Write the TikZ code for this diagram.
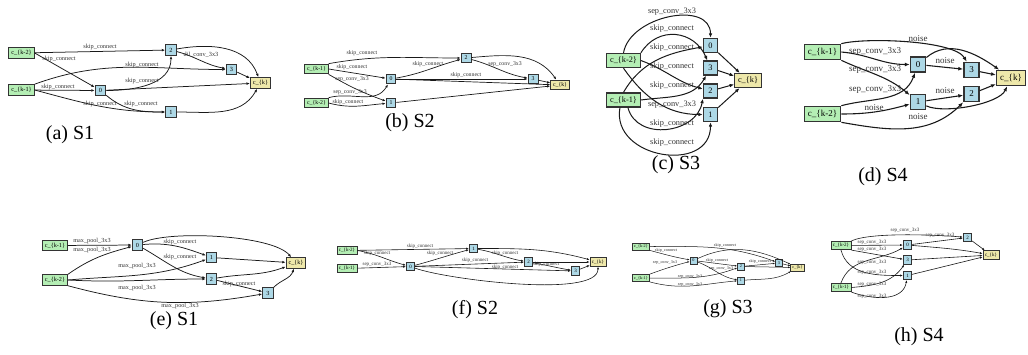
\documentclass[tikz,border=0pt]{standalone}
\usepackage{fontspec}
\setmainfont{Liberation Serif}
\usetikzlibrary{arrows.meta}

\definecolor{inpg}{HTML}{B4EEB4}
\definecolor{midb}{HTML}{ADD8E6}
\definecolor{outy}{HTML}{EEE8AA}

\tikzset{
  subfig/.style={execute at begin scope={\fontsize{#1}{#1}\selectfont}, line width=#1*0.12pt, draw=black!90,
    cellw/.style={line width=#1*0.15pt}},
  cellw/.style={line width=0.8pt},
  cell/.style={draw=black!80, cellw, minimum height=1.7em, minimum width=1.7em, inner xsep=0.4em, inner ysep=0pt},
  inpnode/.style={cell, fill=inpg},
  midnode/.style={cell, fill=midb},
  outnode/.style={cell, fill=outy},
  lbl/.style={inner sep=0.4pt, text=black!80},
  captxt/.style={font=\fontsize{20}{24}\selectfont},
  >={Latex[length=0pt 4.5, width=0pt 3.6]}
}

\begin{document}
\begin{tikzpicture}[x=1pt,y=1pt]
\useasboundingbox (0,0) rectangle (1028,-354);

% (a)
\begin{scope}[subfig=6.3]
	\node[inpnode] (akm2) at (21.5,-53) {c\_\{k-2\}};
	\node[inpnode] (akm1) at (21.5,-90) {c\_\{k-1\}};
	\node[midnode] (a0) at (100.5,-90.5) {0};
	\node[midnode] (a2) at (171,-50) {2};
	\node[midnode] (a3) at (231.5,-69.5) {3};
	\node[midnode] (a1) at (171,-112) {1};
	\node[outnode] (ak) at (260.5,-83) {c\_\{k\}};
	\draw[->] (akm2) -- (a2) node[lbl] at (100,-46.5) {skip\_connect};
	\draw[->] (akm2.east) -- (a0) node[lbl] at (59,-59) {skip\_connect};
	\draw[->] (akm1.north east) to[out=20,in=180] (a3) node[lbl] at (142,-64.5) {skip\_connect};
	\draw[->] (akm1) -- (a0) node[lbl] at (58,-87) {skip\_connect};
	\draw[->] (a0) to[out=0,in=-90] (a2) node[lbl] at (142,-81) {skip\_connect};
	\draw[->] (akm1.east) to[out=-15,in=180] (a1) node[lbl] at (100,-104) {skip\_connect};
	\draw[->] (a0) to[out=-40,in=180] (a1) node[lbl] at (141,-104) {skip\_connect};
	\draw[->] (a2) to[out=-15,in=170] (a3) node[lbl] at (201,-54.5) {dil\_conv\_3x3};
	\draw[->] (a2) to[out=10,in=110] (ak);
	\draw[->] (a3) -- (ak);
	\draw[->] (a0) -- (ak);
	\draw[->] (a1) to[out=0,in=-120] (ak);
\end{scope}

% (b)
\begin{scope}[subfig=5.8]
	\node[inpnode] (bkm1) at (316.5,-69) {c\_\{k-1\}};
	\node[inpnode] (bkm2) at (316.5,-103) {c\_\{k-2\}};
	\node[midnode] (b0) at (391,-79) {0};
	\node[midnode] (b1) at (391,-103) {1};
	\node[midnode] (b2) at (466,-58) {2};
	\node[midnode] (b3) at (533,-79) {3};
	\node[outnode] (bk) at (560,-85) {c\_\{k\}};
	\draw[->] (bkm1.north east) to[out=10,in=180] (b2) node[lbl] at (362,-53) {skip\_connect};
	\draw[->] (bkm1.east) -- (b0) node[lbl] at (352,-67) {skip\_connect};
	\draw[->] (bkm1.south east) to[out=-30,in=160] (b1) node[lbl] at (352,-79) {sep\_conv\_3x3};
	\draw[->] (bkm2.north east) to[out=15,in=-120] (b0) node[lbl] at (350,-92) {sep\_conv\_3x3};
	\draw[->] (bkm2.east) to[out=-15,in=185] (b1) node[lbl] at (348,-102.5) {skip\_connect};
	\draw[->] (b0) to[out=10,in=195] (b2) node[lbl] at (428,-64) {skip\_connect};
	\draw[->] (b0.east) -- (b3) node[lbl] at (466,-75) {skip\_connect};
	\draw[->] (b2) to[out=-15,in=170] (b3) node[lbl] at (505,-64) {sep\_conv\_3x3};
	\draw[->] (b2) to[out=5,in=125] (bk);
	\draw[->] (b3) -- (bk);
	\draw[->] (b0) -- (bk);
	\draw[->] (b1) -- (bk);
\end{scope}

% (c)
\begin{scope}[subfig=8.3]
	\node[inpnode] (ckm2) at (623.5,-60.5) {c\_\{k-2\}};
	\node[inpnode] (ckm1) at (623.5,-100) {c\_\{k-1\}};
	\node[midnode] (c0) at (710.5,-45.5) {0};
	\node[midnode] (c3) at (710.5,-68) {3};
	\node[midnode] (c2) at (710.5,-91) {2};
	\node[midnode] (c1) at (710.5,-114.5) {1};
	\node[outnode] (ck) at (748,-80.5) {c\_\{k\}};
	\draw[->] (ckm2.north) to[out=80,in=90,looseness=1.1] (c0) node[lbl] at (672,-12) {sep\_conv\_3x3};
	\draw[->] (ckm2.north east) to[out=58,in=113,looseness=1.25] (c3) node[lbl] at (672,-29) {skip\_connect};
	\draw[->] (ckm1.north) to[out=60,in=190] (c0) node[lbl] at (672,-47) {skip\_connect};
	\draw[->] (ckm2.east) to[out=-20,in=165] (c2) node[lbl] at (672,-66) {skip\_connect};
	\draw[->] (ckm1.east) to[out=8,in=-120] (c3) node[lbl] at (672,-86) {skip\_connect};
	\draw[->] (ckm2.south) to[out=-55,in=180] (c1) node[lbl] at (672,-105) {sep\_conv\_3x3};
	\draw[->] (ckm1.-60) to[out=-75,in=-100,looseness=1.2] (c2.south west) node[lbl] at (672,-123) {skip\_connect};
	\draw[->] (ckm1.-115) to[out=-100,in=-90,looseness=1.45] (c1) node[lbl] at (672,-142) {skip\_connect};
	\draw[->] (c0) -- (ck);
	\draw[->] (c3) -- (ck);
	\draw[->] (c2) -- (ck);
	\draw[->] (c1) -- (ck);
\end{scope}

% (d)
\begin{scope}[subfig=9]
	\node[inpnode] (dkm1) at (822.5,-52) {c\_\{k-1\}};
	\node[inpnode] (dkm2) at (822.5,-114) {c\_\{k-2\}};
	\node[midnode] (d0) at (918,-64.5) {0};
	\node[midnode] (d1) at (918,-102) {1};
	\node[midnode] (d3) at (971.5,-70) {3};
	\node[midnode] (d2) at (971.5,-94) {2};
	\node[outnode] (dk) at (1011,-78) {c\_\{k\}};
	\draw[->] (dkm1.north east) to[out=15,in=120,looseness=0.5] (d3) node[lbl] at (918,-39) {noise};
	\draw[->] (dkm1.east) to[out=-5,in=180] (d0) node[lbl] at (875,-51) {sep\_conv\_3x3};
	\draw[->] (dkm1.south east) to[out=-25,in=140] (d1) node[lbl] at (875,-69) {sep\_conv\_3x3};
	\draw[->] (dkm2.north east) to[out=15,in=-110] (d0) node[lbl] at (875,-89) {sep\_conv\_3x3};
	\draw[->] (dkm2.east) to[out=0,in=-165] (d1) node[lbl] at (874,-108) {noise};
	\draw[->] (dkm2.south east) to[out=-10,in=-135] (d2) node[lbl] at (918,-117) {noise};
	\draw[->] (d0) -- (d3) node[lbl] at (945,-61) {noise};
	\draw[->] (d1) -- (d2) node[lbl] at (945,-91) {noise};
	\draw[->] (d0) to[out=40,in=145] (dk);
	\draw[->] (d3) -- (dk);
	\draw[->] (d2) -- (dk);
	\draw[->] (d1) to[out=-25,in=-115,looseness=0.6] (dk);
\end{scope}

% (e)
\begin{scope}[subfig=6.2]
	\node[inpnode] (ekm1) at (55,-245.5) {c\_\{k-1\}};
	\node[inpnode] (ekm2) at (55,-280) {c\_\{k-2\}};
	\node[midnode] (e0) at (137.5,-245) {0};
	\node[midnode] (e1) at (211.5,-257.5) {1};
	\node[midnode] (e2) at (211.5,-279) {2};
	\node[midnode] (e3) at (268,-293) {3};
	\node[outnode] (ek) at (296,-263) {c\_\{k\}};
	\draw[->] (ekm1) -- (e0) node[lbl] at (92,-241) {max\_pool\_3x3};
	\draw[->] (ekm2.north east) to[out=35,in=195] (e0) node[lbl] at (92,-250) {max\_pool\_3x3};
	\draw[->] (e0) to[out=5,in=160] (e1) node[lbl] at (180,-242) {skip\_connect};
	\draw[->] (e0) to[out=-30,in=170] (e2) node[lbl] at (180,-257) {skip\_connect};
	\draw[->] (ekm2.east) to[out=5,in=-160] (e1) node[lbl] at (137,-266) {max\_pool\_3x3};
	\draw[->] (ekm2.east) to[out=-3,in=180] (e2) node[lbl] at (137,-288) {max\_pool\_3x3};
	\draw[->] (ekm2.south east) to[out=-15,in=190] (e3) node[lbl] at (180,-306) {max\_pool\_3x3};
	\draw[->] (e2) -- (e3) node[lbl] at (239,-284) {skip\_connect};
	\draw[->] (e0) to[out=25,in=130,looseness=0.5] (ek);
	\draw[->] (e1) -- (ek);
	\draw[->] (e2) to[out=10,in=200] (ek);
	\draw[->] (e3) to[out=45,in=-110] (ek);
\end{scope}

% (f)
\begin{scope}[subfig=5]
	\node[inpnode] (fkm2) at (347,-250.5) {c\_\{k-2\}};
	\node[inpnode] (fkm1) at (347,-268.5) {c\_\{k-1\}};
	\node[midnode] (f0) at (410.5,-266.5) {0};
	\node[midnode] (f1) at (473.5,-248.5) {1};
	\node[midnode] (f2) at (528.5,-262) {2};
	\node[midnode] (f3) at (575.5,-271) {3};
	\node[outnode] (fk) at (598,-262) {c\_\{k\}};
	\draw[->] (fkm2) -- (f1) node[lbl] at (420,-246) {skip\_connect};
	\draw[->] (fkm2.east) to[out=-10,in=165] (f0) node[lbl] at (377,-253) {skip\_connect};
	\draw[->] (fkm1) -- (f0) node[lbl] at (377,-264) {sep\_conv\_3x3};
	\draw[->] (f0) to[out=15,in=195] (f1) node[lbl] at (440,-253) {skip\_connect};
	\draw[->] (f0) -- (f2) node[lbl] at (475,-260) {skip\_connect};
	\draw[->] (f1) to[out=-10,in=170] (f2) node[lbl] at (505,-253) {skip\_connect};
	\draw[->] (f0.east) -- (f3) node[lbl] at (505,-267) {skip\_connect};
	\draw[->] (f2) to[out=-10,in=170] (f3) node[lbl] at (546,-264.5) {skip\_connect};
	\draw[->] (f1) to[out=0,in=165] (fk);
	\draw[->] (f2) -- (fk);
	\draw[->] (f3) -- (fk);
	\draw[->] (f0) to[out=-20,in=-90,looseness=0.45] (fk);
\end{scope}

% (g)
\begin{scope}[subfig=4.2]
	\node[inpnode] (gkm2) at (641,-246.5) {c\_\{k-2\}};
	\node[inpnode] (gkm1) at (641,-278) {c\_\{k-1\}};
	\node[midnode] (g0) at (693.5,-260.5) {0};
	\node[midnode] (g2) at (741,-266.5) {2};
	\node[midnode] (g1) at (741,-280.5) {1};
	\node[midnode] (g3) at (779,-263) {3};
	\node[outnode] (gk) at (797.5,-267.5) {c\_\{k\}};
	\draw[->] (gkm2) to[out=0,in=160] (g3) node[lbl] at (725,-245) {skip\_connect};
	\draw[->] (gkm2.south east) to[out=-15,in=170] (g0) node[lbl] at (666,-250) {skip\_connect};
	\draw[->] (gkm1.north east) to[out=20,in=-165] (g0) node[lbl] at (665,-263) {sep\_conv\_3x3};
	\draw[->] (g0) -- (g2) node[lbl] at (717,-260) {skip\_connect};
	\draw[->] (g0) to[out=-20,in=170] (g1) node[lbl] at (721,-269) {sep\_conv\_3x3};
	\draw[->] (gkm1.east) to[out=0,in=-160] (g2) node[lbl] at (690,-276.5) {sep\_conv\_3x3};
	\draw[->] (gkm1.south east) to[out=-15,in=185] (g1) node[lbl] at (690,-284.5) {sep\_conv\_3x3};
	\draw[->] (g2) -- (g3) node[lbl] at (760,-261) {skip\_connect};
	\draw[->] (g0) to[out=25,in=155] (gk);
	\draw[->] (g2) -- (gk);
	\draw[->] (g3) -- (gk);
	\draw[->] (g1) to[out=5,in=-150] (gk);
\end{scope}

% (h)
\begin{scope}[subfig=5]
	\node[inpnode] (hkm2) at (841,-245.5) {c\_\{k-2\}};
	\node[inpnode] (hkm1) at (841,-287.5) {c\_\{k-1\}};
	\node[midnode] (h0) at (907.5,-245) {0};
	\node[midnode] (h3) at (907.5,-260) {3};
	\node[midnode] (h1) at (907.5,-275.5) {1};
	\node[midnode] (h2) at (967.5,-237.5) {2};
	\node[outnode] (hk) at (991,-255) {c\_\{k\}};
	\draw[->] (hkm2.north east) to[out=25,in=175,looseness=0.5] (h2) node[lbl] at (905,-230) {sep\_conv\_3x3};
	\draw[->] (hkm2) -- (h0) node[lbl] at (872,-242) {sep\_conv\_3x3};
	\draw[->] (hkm2.south east) to[out=-10,in=170] (h3) node[lbl] at (872,-249) {sep\_conv\_3x3};
	\draw[->] (hkm1.north) to[out=70,in=-150] (h0) node[lbl] at (872,-262) {sep\_conv\_3x3};
	\draw[->] (hkm2.south) to[out=-75,in=180] (h1) node[lbl] at (872,-272) {sep\_conv\_3x3};
	\draw[->] (hkm1.east) to[out=5,in=-125] (h3) node[lbl] at (872,-284) {sep\_conv\_3x3};
	\draw[->] (hkm1.south east) to[out=-20,in=-100] (h1) node[lbl] at (872,-296) {sep\_conv\_3x3};
	\draw[->] (h0) -- (h2) node[lbl] at (940,-235) {sep\_conv\_3x3};
	\draw[->] (h0) to[out=-5,in=170] (hk);
	\draw[->] (h3) -- (hk);
	\draw[->] (h1) -- (hk);
	\draw[->] (h2) -- (hk);
\end{scope}

\node[captxt] (capa) at (70,-135) {(a) S1};
\node[captxt] (capb) at (410,-123) {(b) S2};
\node[captxt] (capc) at (676,-165) {(c) S3};
\node[captxt] (capd) at (883,-177) {(d) S4};
\node[captxt] (cape) at (174,-321) {(e) S1};
\node[captxt] (capf) at (475,-310) {(f) S2};
\node[captxt] (capg) at (728,-309) {(g) S3};
\node[captxt] (caph) at (919,-337) {(h) S4};
\end{tikzpicture}
\end{document}
